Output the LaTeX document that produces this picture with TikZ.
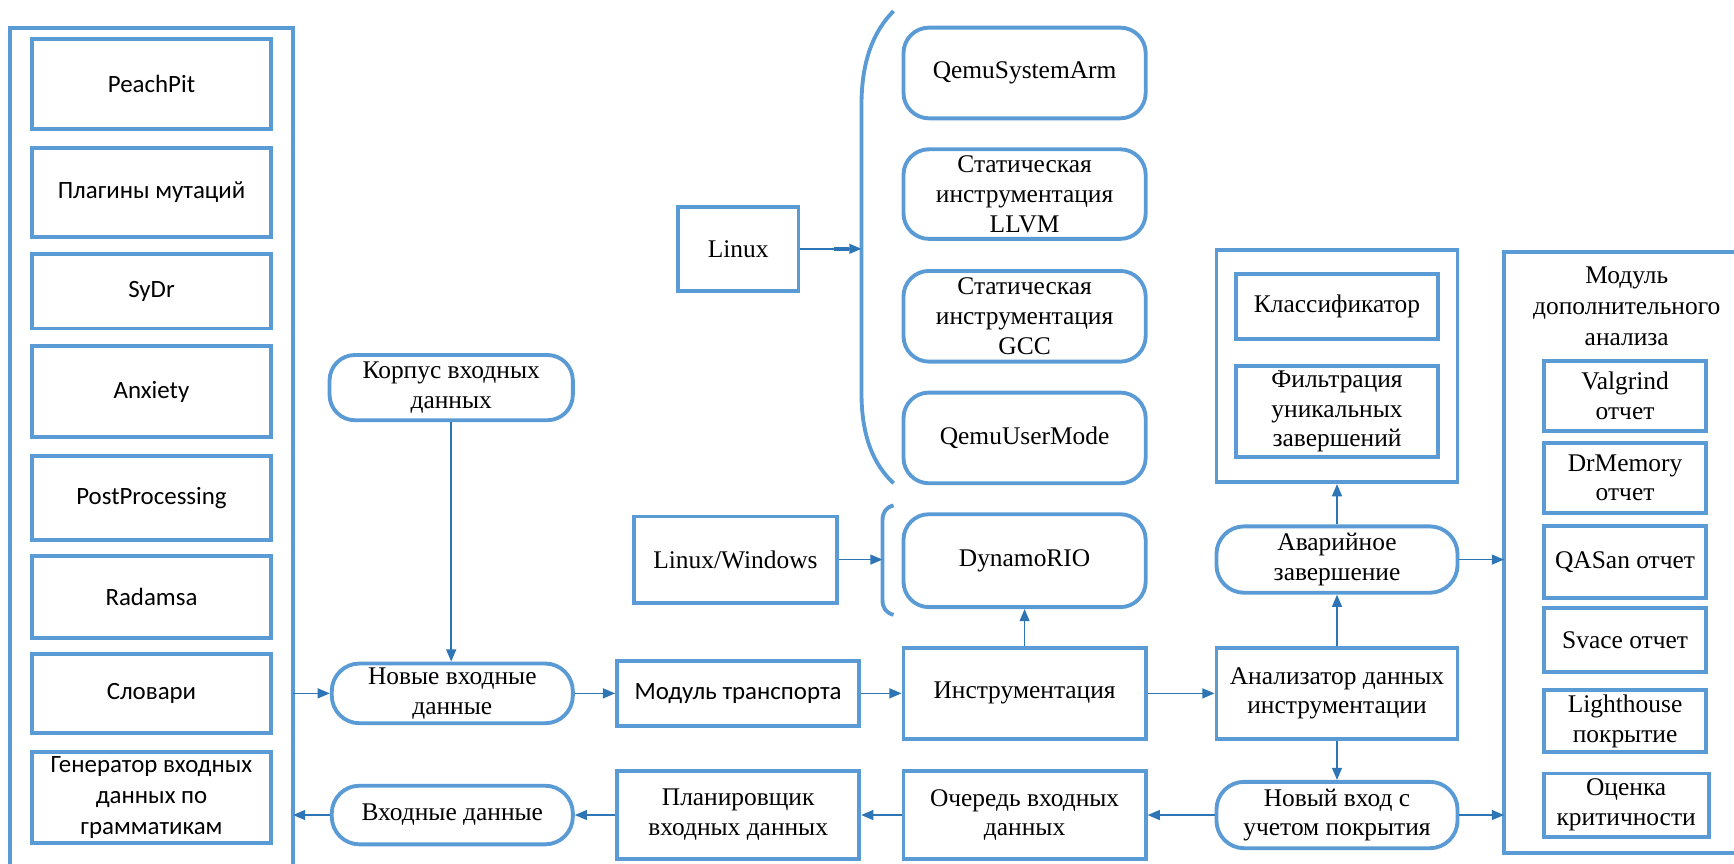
\documentclass[tikz,border=0pt]{standalone}
\usepackage{fontspec}
\setmainfont{Liberation Serif}
\newfontfamily\calib{Carlito}
\usetikzlibrary{arrows.meta,calc}
\definecolor{bord}{HTML}{5B9BD5}
\definecolor{conn}{HTML}{2E75B6}
\tikzset{
  box/.style={draw=bord, line width=3.5pt, inner sep=2pt, align=center,
    font=\fontsize{23}{27}\selectfont},
  rbox/.style={box, rounded corners=23pt},
  sbox/.style={box, font=\calib\fontsize{22.5}{28}\selectfont},
  frame/.style={draw=bord, line width=3.5pt},
  arr/.style={draw=conn, line width=1.3pt, -{Triangle[length=11pt,width=9pt]}},
}
\begin{document}
\begin{tikzpicture}[x=1pt,y=-1pt]
\useasboundingbox (0,0) rectangle (1568,781);

% left column container (open at the bottom)
\draw[frame] (9,781) -- (9,25) -- (265,25) -- (265,781);
\coordinate (lin) at (265,627);
\coordinate (lout) at (265,737);

\node[sbox, minimum width=216pt, minimum height=82pt] (peach) at (137,76) {PeachPit};
\node[sbox, minimum width=216pt, minimum height=80pt] (plug) at (137,174) {Плагины мутаций};
\node[sbox, minimum width=216pt, minimum height=67pt] (sydr) at (137,263.5) {SyDr};
\node[sbox, minimum width=216pt, minimum height=82pt] (anx) at (137,354) {Anxiety};
\node[sbox, minimum width=216pt, minimum height=76pt] (post) at (137,450) {PostProcessing};
\node[sbox, minimum width=216pt, minimum height=74pt] (rad) at (137,540) {Radamsa};
\node[sbox, minimum width=216pt, minimum height=72pt] (slov) at (137,627) {Словари};
\node[sbox, minimum width=216pt, minimum height=82pt] (gen) at (137,721) {Генератор входных\\данных по\\грамматикам};

% second column
\node[rbox, minimum width=220pt, minimum height=59pt] (korp) at (408,350.5) {Корпус входных\\данных};
\node[rbox, minimum width=218pt, minimum height=54pt, rounded corners=25pt] (novye) at (409,627) {Новые входные\\данные};
\node[rbox, minimum width=218pt, minimum height=53pt, rounded corners=25pt] (vhod) at (409,737) {Входные данные};

% third column
\node[box, minimum width=109pt, minimum height=76pt] (linux) at (667.5,225) {Linux};
\node[box, minimum width=184pt, minimum height=78pt] (linwin) at (665,506) {Linux/Windows};
\node[sbox, minimum width=219pt, minimum height=59pt] (transp) at (667.5,627) {Модуль транспорта};
\node[box, minimum width=219pt, minimum height=80pt] (plan) at (667.5,737) {Планировщик\\входных данных};

% brackets
\draw[frame] (808,10) .. controls (790,28) and (779,55) .. (779,95) -- (779,355) .. controls (779,395) and (790,420) .. (808,437);
\coordinate (brk1) at (779,225);
\draw[frame] (808,457) .. controls (801,459) and (798,463) .. (798,471) -- (798,542) .. controls (798,550) and (801,554) .. (808,556);
\coordinate (brk2) at (798,506);

% fourth column
\node[rbox, minimum width=219pt, minimum height=82pt] (qsys) at (926.5,66) {QemuSystemArm};
\node[rbox, minimum width=219pt, minimum height=81pt] (llvm) at (926.5,175.5) {Статическая\\инструментация\\LLVM};
\node[rbox, minimum width=219pt, minimum height=82pt] (gcc) at (926.5,286) {Статическая\\инструментация\\GCC};
\node[rbox, minimum width=219pt, minimum height=82pt] (quser) at (926.5,396) {QemuUserMode};
\node[rbox, minimum width=219pt, minimum height=84pt] (dyn) at (926.5,507) {DynamoRIO};
\node[box, minimum width=219pt, minimum height=82pt] (instr) at (926.5,627) {Инструментация};
\node[box, minimum width=219pt, minimum height=80pt] (och) at (926.5,737) {Очередь входных\\данных};

% fifth column
\node[box, minimum width=218pt, minimum height=210pt] (grp) at (1209,331) {};
\node[box, minimum width=182pt, minimum height=59pt] (klass) at (1209,277) {Классификатор};
\node[box, minimum width=182pt, minimum height=82pt] (filt) at (1209,372) {Фильтрация\\уникальных\\завершений};
\node[rbox, minimum width=218pt, minimum height=60pt, rounded corners=25pt] (avar) at (1209,506) {Аварийное\\завершение};
\node[box, minimum width=218pt, minimum height=82pt] (anal) at (1209,627) {Анализатор данных\\инструментации};
\node[rbox, minimum width=218pt, minimum height=60pt, rounded corners=25pt] (novyi) at (1209,737) {Новый вход с\\учетом покрытия};

% right container (open at the right)
\draw[frame] (1568,228) -- (1360,228) -- (1360,771) -- (1568,771);
\coordinate (rin1) at (1360,506);
\coordinate (rin2) at (1360,737);
\node[align=center, font=\fontsize{23}{28}\selectfont] (modtitle) at (1471,277) {Модуль\\дополнительного\\анализа};
\node[box, minimum width=147pt, minimum height=63pt] (valg) at (1469.5,358) {Valgrind\\отчет};
\node[box, minimum width=147pt, minimum height=63pt] (drm) at (1469.5,432) {DrMemory\\отчет};
\node[box, minimum width=147pt, minimum height=65pt] (qasan) at (1469.5,508) {QASan отчет};
\node[box, minimum width=147pt, minimum height=58pt] (svace) at (1469.5,579) {Svace отчет};
\node[box, minimum width=147pt, minimum height=56pt] (light) at (1469.5,652) {Lighthouse\\покрытие};
\node[box, minimum width=149pt, minimum height=57pt] (ocen) at (1470.5,728) {Оценка\\критичности};

% connectors
\draw[arr] (lin) -- (novye.west);
\draw[arr] (vhod.west) -- (lout);
\draw[arr] (korp.south) -- (korp.south |- novye.north);
\draw[arr] (novye.east) -- (novye.east -| transp.west);
\draw[arr] (transp.east) -- (transp.east -| instr.west);
\draw[arr] (instr.north) -- (instr.north |- dyn.south);
\draw[arr] (instr.east) -- (instr.east -| anal.west);
\draw[arr] (anal.north) -- (anal.north |- avar.south);
\draw[arr] (avar.north) -- (avar.north |- grp.south);
\draw[arr] (anal.south) -- (anal.south |- novyi.north);
\draw[arr] (novyi.west) -- (novyi.west -| och.east);
\draw[arr] (och.west) -- (och.west -| plan.east);
\draw[arr] (plan.west) -- (plan.west -| vhod.east);
\draw[arr] (avar.east) -- (rin1);
\draw[arr] (novyi.east) -- (rin2);
\draw[arr] (linux.east) -- (brk1);
\draw[draw=conn, line width=3.5pt] ($(linux.east)!0.55!(brk1)$) -- ($(linux.east)!0.8!(brk1)$);
\draw[arr] (linwin.east) -- (brk2);
\end{tikzpicture}
\end{document}
